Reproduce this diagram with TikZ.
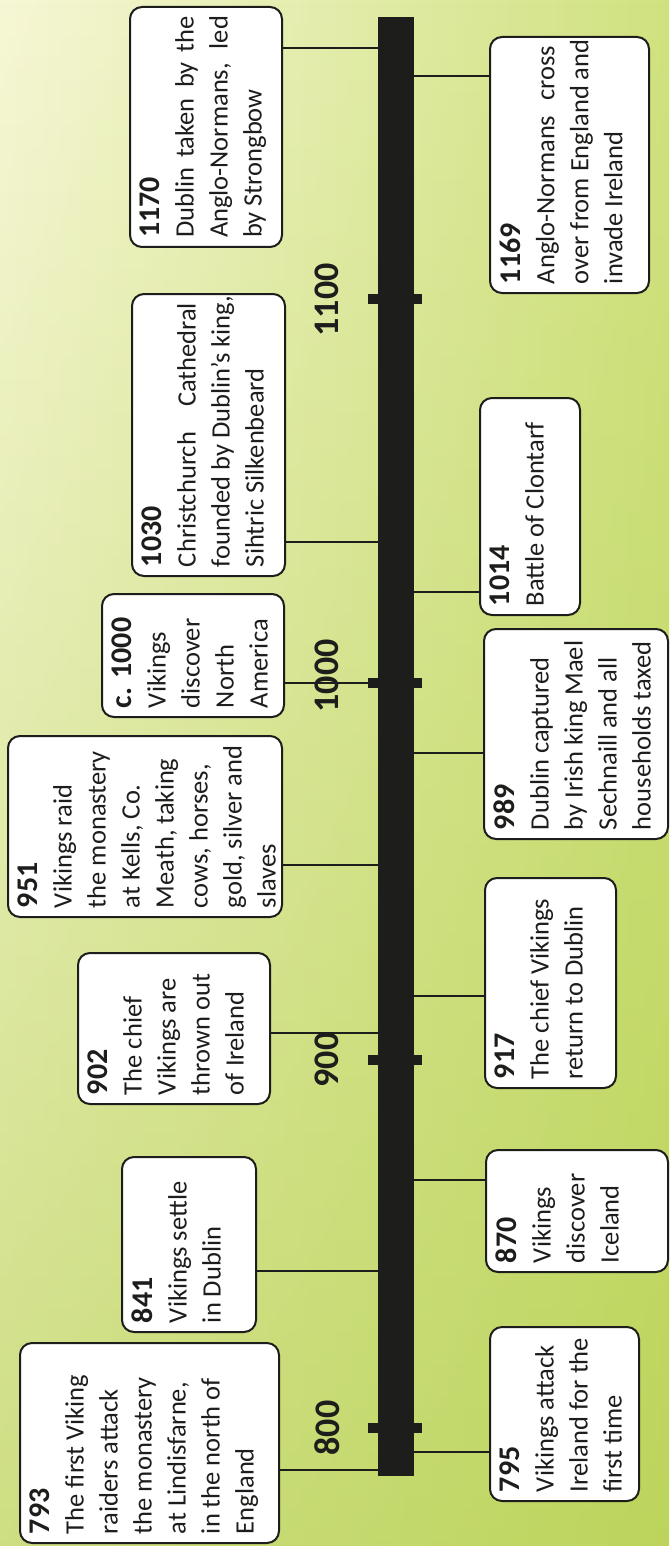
\documentclass[tikz,border=0pt]{standalone}
\usepackage{fontspec}
\setmainfont{Carlito}
\usetikzlibrary{fadings}
\definecolor{ink}{HTML}{1D1D1B}
\definecolor{bgPale}{RGB}{247,247,214}
\definecolor{bgMid}{RGB}{208,226,128}
\definecolor{bgGreen}{RGB}{172,202,62}
\tikzfading[name=fadebottom, top color=transparent!100, bottom color=transparent!45]
\newcommand\yr[1]{{\fontsize{30}{34}\selectfont\bfseries #1}}
\newcommand\jl[1]{\makebox[\linewidth][s]{#1}}
\newcommand\tlbox[6]{%
 \pgfmathsetmacro\tlW{#5-#4}%
 \pgfmathsetmacro\tlH{#3-#2}%
 \node[evbox, minimum width=\tlW pt, minimum height=\tlH pt] (#1) at ({(#2+#3)/2},{(#4+#5)/2})
 {\parbox[c][\dimexpr\tlH pt-20pt\relax][t]{\dimexpr\tlW pt-18pt\relax}{\raggedright\fontsize{26.5}{34}\selectfont #6}};}
\tikzset{
 evbox/.style={draw=ink, line width=2pt, fill=white, rounded corners=12pt, rotate=90, inner sep=0pt, text=ink},
 conn/.style={draw=ink, line width=2pt},
 barbox/.style={fill=ink, inner sep=0pt, minimum width=36pt, minimum height=1459pt},
 tickbox/.style={fill=ink, inner sep=0pt, minimum width=54pt, minimum height=10pt},
 axislab/.style={rotate=90, inner sep=0pt, text=ink, font=\fontsize{36}{40}\selectfont\bfseries}
}
\begin{document}
\begin{tikzpicture}[x=1pt,y=-1pt]
\useasboundingbox (0,0) rectangle (669,1546);
\shade[left color=bgPale, right color=bgMid] (0,0) rectangle (669,1546);
\fill[bgGreen, path fading=fadebottom] (0,0) rectangle (669,1546);
% bar
\node[barbox] (bar) at (396,746.5) {};
% event coordinates on the bar
\coordinate (c793) at (bar.west |- 0,1470);
\coordinate (c841) at (bar.west |- 0,1271);
\coordinate (c902) at (bar.west |- 0,1033);
\coordinate (c951) at (bar.west |- 0,865);
\coordinate (c1000) at (bar.west |- 0,683);
\coordinate (c1030) at (bar.west |- 0,542);
\coordinate (c1170) at (bar.west |- 0,48);
\coordinate (c795) at (bar.east |- 0,1452);
\coordinate (c870) at (bar.east |- 0,1180);
\coordinate (c917) at (bar.east |- 0,996);
\coordinate (c989) at (bar.east |- 0,753);
\coordinate (c1014) at (bar.east |- 0,592);
\coordinate (c1169) at (bar.east |- 0,76);
% ticks
\node[tickbox] (t800) at (395,1428) {};
\node[tickbox] (t900) at (395,1060) {};
\node[tickbox] (t1000) at (395,683) {};
\node[tickbox] (t1100) at (395,299) {};
% boxes left
\tlbox{b793}{20}{279}{1343}{1543}{\yr{793}\\The first Viking\\raiders attack\\the monastery\\at Lindisfarne,\\in the north of\\England}
\tlbox{b841}{122}{256}{1157}{1332}{\yr{841}\\Vikings settle\\in Dublin}
\tlbox{b902}{78}{270}{953}{1104}{\yr{902}\\The chief\\Vikings are\\thrown out\\of Ireland}
\tlbox{b951}{8}{282}{736}{917}{\yr{951}\\Vikings raid\\the monastery\\at Kells, Co.\\Meath, taking\\cows, horses,\\\mbox{gold, silver and}\\slaves}
\tlbox{b1000}{102}{284}{594}{717}{\yr{c. 1000}\\Vikings\\discover\\North\\America}
\tlbox{b1030}{132}{285}{294}{576}{\yr{1030}\\\jl{Christchurch Cathedral}\\\mbox{founded by Dublin’s king,}\\Sihtric Silkenbeard}
\tlbox{b1170}{130}{282}{7}{247}{\yr{1170}\\\jl{Dublin taken by the}\\\jl{Anglo-Normans, led}\\by Strongbow}
% boxes right
\tlbox{b795}{490}{639}{1327}{1501}{\yr{795}\\Vikings attack\\Ireland for the\\first time}
\tlbox{b870}{486}{668}{1150}{1272}{\yr{870}\\Vikings\\discover\\Iceland}
\tlbox{b917}{485}{616}{878}{1088}{\yr{917}\\The chief Vikings\\return to Dublin}
\tlbox{b989}{484}{668}{629}{839}{\yr{989}\\Dublin captured\\\mbox{by Irish king Mael}\\Sechnaill and all\\\mbox{households taxed}}
\tlbox{b1014}{480}{580}{398}{615}{\yr{1014}\\Battle of Clontarf}
\tlbox{b1169}{490}{649}{37}{293}{\yr{1169}\\\jl{Anglo-Normans cross}\\\mbox{over from England and}\\invade Ireland}
% connectors
\foreach \e in {793,841,902,951,1000,1030,1170}
  \draw[conn] (c\e) -- (b\e.south |- c\e);
\foreach \e in {795,870,917,989,1014,1169}
  \draw[conn] (c\e) -- (b\e.north |- c\e);
% axis labels
\node[axislab] (l800) at (327,1428) {800};
\node[axislab] (l900) at (327,1060) {900};
\node[axislab] (l1000) at (327,676) {1000};
\node[axislab] (l1100) at (327,300) {1100};
\end{tikzpicture}
\end{document}
